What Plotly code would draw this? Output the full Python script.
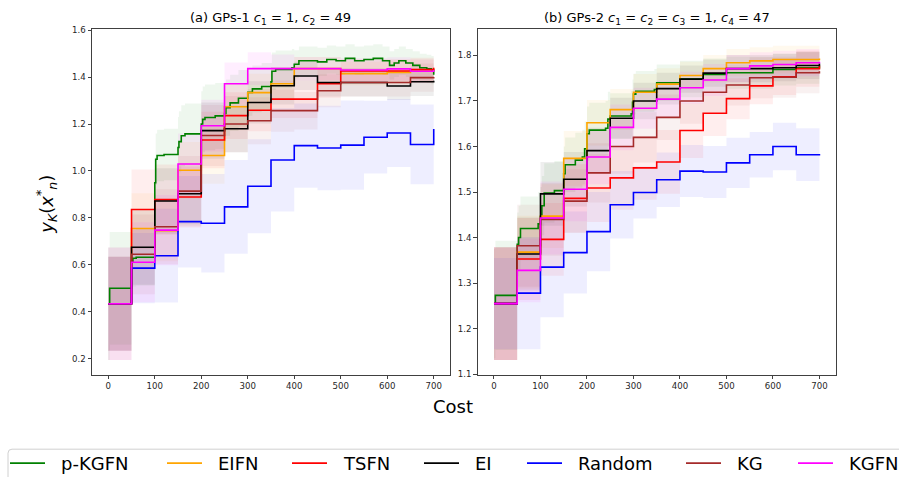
import plotly.graph_objects as go

# ---------------- data ----------------
COSTS = [0, 50, 100, 150, 200, 250, 300, 350, 400, 450, 500, 550, 600, 650, 700]
METHODS = ["p-KGFN", "EIFN", "TSFN", "EI", "Random", "KG", "KGFN"]
COLORS = ["#008000", "#ffa500", "#ff0000", "#000000", "#0000ff", "#a52a2a", "#ff00ff"]

# Panel (a) GPs-1
A_PKGFN_COST = [0, 3, 50, 53, 60, 100, 102, 105, 120, 150, 152, 157, 165, 200, 203, 208, 230,
                250, 253, 262, 280, 300, 310, 330, 350, 352, 360, 395, 400, 410, 430, 450, 470,
                490, 510, 530, 550, 570, 590, 605, 615, 625, 640, 655, 670, 685, 695, 700]
A_PKGFN = [0.434, 0.500, 0.615, 0.628, 0.632, 0.950, 1.050, 1.066, 1.070, 1.100, 1.125, 1.150,
           1.158, 1.200, 1.220, 1.228, 1.235, 1.245, 1.270, 1.290, 1.310, 1.335, 1.350, 1.360,
           1.380, 1.425, 1.433, 1.440, 1.455, 1.470, 1.470, 1.465, 1.475, 1.470, 1.480, 1.470,
           1.475, 1.480, 1.470, 1.450, 1.460, 1.470, 1.460, 1.450, 1.440, 1.435, 1.430, 1.410]
A_PKGFN_SD = [0.24, 0.24, 0.12, 0.12, 0.12, 0.11, 0.11, 0.11, 0.11, 0.13, 0.13, 0.13, 0.13,
              0.14, 0.14, 0.14, 0.14, 0.12, 0.12, 0.12, 0.12, 0.10, 0.10, 0.10, 0.08, 0.08,
              0.08, 0.08] + [0.06] * 20
A_EIFN = [0.434, 0.755, 0.745, 1.003, 1.066, 1.274, 1.334, 1.372, 1.436, 1.436, 1.415, 1.415, 1.420, 1.425, 1.425]
A_TSFN = [0.434, 0.836, 0.878, 0.889, 1.132, 1.236, 1.259, 1.306, 1.306, 1.372, 1.426, 1.426, 1.426, 1.432, 1.440]
A_EI = [0.434, 0.675, 0.872, 0.903, 1.172, 1.180, 1.292, 1.363, 1.405, 1.377, 1.377, 1.377, 1.362, 1.380, 1.385]
A_RANDOM = [0.434, 0.586, 0.639, 0.784, 0.777, 0.847, 0.935, 1.047, 1.108, 1.098, 1.110, 1.144, 1.162, 1.113, 1.179]
A_KG = [0.434, 0.645, 0.762, 0.914, 1.151, 1.200, 1.214, 1.257, 1.257, 1.342, 1.377, 1.377, 1.377, 1.398, 1.400]
A_KGFN = [0.434, 0.611, 0.748, 1.030, 1.193, 1.372, 1.436, 1.436, 1.436, 1.436, 1.430, 1.430, 1.435, 1.425, 1.430]

A_EIFN_SD = [0.20, 0.15, 0.13, 0.12, 0.12, 0.10, 0.08, 0.07, 0.05, 0.05, 0.05, 0.05, 0.05, 0.05, 0.05]
A_TSFN_SD = [0.20, 0.17, 0.15, 0.13, 0.12, 0.10, 0.09, 0.08, 0.08, 0.06, 0.05, 0.05, 0.05, 0.05, 0.05]
A_EI_SD = [0.20, 0.16, 0.14, 0.13, 0.12, 0.10, 0.09, 0.08, 0.06, 0.06, 0.06, 0.06, 0.06, 0.06, 0.06]
A_RANDOM_SD = [0.20, 0.15, 0.20, 0.195, 0.21, 0.20, 0.20, 0.22, 0.18, 0.18, 0.19, 0.155, 0.145, 0.17, 0.17]
A_KG_SD = [0.24, 0.17, 0.16, 0.15, 0.13, 0.12, 0.10, 0.09, 0.08, 0.07, 0.06, 0.06, 0.06, 0.06, 0.06]
A_KGFN_SD = [0.24, 0.17, 0.15, 0.13, 0.11, 0.09, 0.07, 0.06, 0.05, 0.05, 0.05, 0.05, 0.05, 0.05, 0.05]

# Panel (b) GPs-2
B_PKGFN_COST = [0, 3, 50, 53, 57, 95, 100, 103, 108, 130, 150, 153, 175, 190, 195, 200, 205,
                240, 245, 250, 295, 298, 300, 305, 345, 350, 400, 450, 500, 550, 600, 650, 700]
B_PKGFN = [1.255, 1.273, 1.385, 1.400, 1.420, 1.430, 1.446, 1.470, 1.498, 1.503, 1.540, 1.560,
           1.570, 1.577, 1.595, 1.628, 1.636, 1.640, 1.660, 1.667, 1.672, 1.697, 1.715, 1.721,
           1.725, 1.740, 1.748, 1.758, 1.762, 1.762, 1.769, 1.773, 1.776]
B_PKGFN_SD = [0.12, 0.12, 0.07, 0.07, 0.07, 0.07, 0.065, 0.065, 0.065, 0.065, 0.06, 0.06, 0.06,
              0.06, 0.06, 0.06, 0.06, 0.06, 0.06, 0.05, 0.05, 0.05, 0.045, 0.045, 0.045, 0.04,
              0.04, 0.035, 0.035, 0.035, 0.035, 0.035, 0.035]
B_EIFN = [1.255, 1.368, 1.447, 1.574, 1.652, 1.681, 1.719, 1.737, 1.756, 1.771, 1.784, 1.788, 1.791, 1.791, 1.793]
B_TSFN = [1.255, 1.353, 1.396, 1.486, 1.509, 1.531, 1.553, 1.566, 1.635, 1.673, 1.705, 1.733, 1.753, 1.771, 1.778]
B_EI = [1.255, 1.364, 1.496, 1.528, 1.591, 1.662, 1.700, 1.727, 1.748, 1.761, 1.771, 1.771, 1.773, 1.778, 1.782]
B_RANDOM = [1.255, 1.278, 1.335, 1.367, 1.413, 1.472, 1.499, 1.527, 1.546, 1.544, 1.564, 1.582, 1.600, 1.582, 1.580]
B_KG = [1.255, 1.382, 1.440, 1.480, 1.542, 1.600, 1.620, 1.664, 1.700, 1.719, 1.735, 1.751, 1.752, 1.762, 1.765]
B_KGFN = [1.255, 1.328, 1.443, 1.506, 1.577, 1.642, 1.684, 1.704, 1.729, 1.746, 1.771, 1.777, 1.780, 1.784, 1.786]

B_EIFN_SD = [0.124, 0.08, 0.07, 0.06, 0.05, 0.045, 0.04, 0.035, 0.03, 0.03, 0.03, 0.03, 0.03, 0.03, 0.03]
B_TSFN_SD = [0.124, 0.09, 0.08, 0.075, 0.075, 0.07, 0.07, 0.07, 0.06, 0.05, 0.045, 0.04, 0.04, 0.04, 0.04]
B_EI_SD = [0.124, 0.08, 0.07, 0.06, 0.05, 0.045, 0.04, 0.035, 0.03, 0.03, 0.03, 0.03, 0.03, 0.03, 0.03]
B_RANDOM_SD = [0.10, 0.123, 0.11, 0.09, 0.087, 0.074, 0.057, 0.06, 0.057, 0.057, 0.055, 0.05, 0.052, 0.058, 0.058]
B_KG_SD = [0.124, 0.09, 0.08, 0.07, 0.065, 0.06, 0.055, 0.05, 0.05, 0.045, 0.045, 0.045, 0.045, 0.045, 0.045]
B_KGFN_SD = [0.124, 0.07, 0.08, 0.07, 0.06, 0.05, 0.045, 0.04, 0.035, 0.035, 0.03, 0.03, 0.03, 0.03, 0.03]

A_TICKS_X = [0, 100, 200, 300, 400, 500, 600, 700]
A_TICKS_Y = [0.2, 0.4, 0.6, 0.8, 1.0, 1.2, 1.4, 1.6]
B_TICKS_Y = [1.1, 1.2, 1.3, 1.4, 1.5, 1.6, 1.7, 1.8]

PANEL_A = [(A_PKGFN_COST, A_PKGFN, A_PKGFN_SD), (COSTS, A_EIFN, A_EIFN_SD), (COSTS, A_TSFN, A_TSFN_SD),
           (COSTS, A_EI, A_EI_SD), (COSTS, A_RANDOM, A_RANDOM_SD), (COSTS, A_KG, A_KG_SD),
           (COSTS, A_KGFN, A_KGFN_SD)]
PANEL_B = [(B_PKGFN_COST, B_PKGFN, B_PKGFN_SD), (COSTS, B_EIFN, B_EIFN_SD), (COSTS, B_TSFN, B_TSFN_SD),
           (COSTS, B_EI, B_EI_SD), (COSTS, B_RANDOM, B_RANDOM_SD), (COSTS, B_KG, B_KG_SD),
           (COSTS, B_KGFN, B_KGFN_SD)]


def rgba(hexcol, a):
    h = hexcol.lstrip("#")
    r, g, b = int(h[0:2], 16), int(h[2:4], 16), int(h[4:6], 16)
    return f"rgba({r},{g},{b},{a})"


fig = go.Figure()
W, H = 899, 477      # reference frame used for fractional positions
FIG_H = 482
FONT = "DejaVu Sans"

for panel, xa, ya in [(PANEL_A, "x", "y"), (PANEL_B, "x2", "y2")]:
    # bands first
    for (xs, m, sd), col, name in zip(panel, COLORS, METHODS):
        lo = [a - b for a, b in zip(m, sd)]
        hi = [a + b for a, b in zip(m, sd)]
        fig.add_trace(go.Scatter(x=xs, y=lo, mode="lines", line=dict(width=0, shape="hv"),
                                 showlegend=False, hoverinfo="skip", xaxis=xa, yaxis=ya))
        fig.add_trace(go.Scatter(x=xs, y=hi, mode="lines", line=dict(width=0, shape="hv"),
                                 fill="tonexty", fillcolor=rgba(col, 0.065),
                                 showlegend=False, hoverinfo="skip", xaxis=xa, yaxis=ya))
    for (xs, m, sd), col, name in zip(panel, COLORS, METHODS):
        fig.add_trace(go.Scatter(x=xs, y=m, mode="lines", name=name,
                                 line=dict(color=col, width=1.6, shape="hv"),
                                 showlegend=False, xaxis=xa, yaxis=ya))

axis_common = dict(showline=True, mirror=True, linecolor="#404040", linewidth=1,
                   ticks="outside", ticklen=3.5, tickwidth=1, tickcolor="#404040",
                   showgrid=False, zeroline=False,
                   tickfont=dict(family=FONT, size=8.6, color="#262626"))

fig.update_layout(
    width=W, height=FIG_H, autosize=False,
    margin=dict(l=0, r=0, t=0, b=0),
    paper_bgcolor="white", plot_bgcolor="white",
    showlegend=False,
    xaxis=dict(domain=[92 / W, 450 / W], range=[-35, 735], tickvals=A_TICKS_X, anchor="y", **axis_common),
    yaxis=dict(domain=[1 - 374 / H, 1 - 25.7 / H], range=[0.132, 1.607], tickvals=A_TICKS_Y,
               tickformat=".1f", anchor="x", **axis_common),
    xaxis2=dict(domain=[477.7 / W, 835.7 / W], range=[-35, 735], tickvals=A_TICKS_X, anchor="y2", **axis_common),
    yaxis2=dict(domain=[1 - 374 / H, 1 - 25.7 / H], range=[1.099, 1.859], tickvals=B_TICKS_Y,
                tickformat=".1f", anchor="x2", **axis_common),
)

ann = []
ann.append(dict(x=270 / W, y=1 - 15.5 / H, xref="paper", yref="paper", showarrow=False,
                text="(a) GPs-1 <i>c</i><sub>1</sub> = 1, <i>c</i><sub>2</sub> = 49",
                font=dict(family=FONT, size=13, color="black"), xanchor="center", yanchor="middle"))
ann.append(dict(x=656.7 / W, y=1 - 15.5 / H, xref="paper", yref="paper", showarrow=False,
                text="(b) GPs-2 <i>c</i><sub>1</sub> = <i>c</i><sub>2</sub> = <i>c</i><sub>3</sub> = 1, <i>c</i><sub>4</sub> = 47",
                font=dict(family=FONT, size=13, color="black"), xanchor="center", yanchor="middle"))
ann.append(dict(x=46 / W, y=1 - 203 / H, xref="paper", yref="paper", showarrow=False, textangle=-90,
                text="<i>y</i><sub><i>K</i></sub>(<i>x</i><sup>*</sup><sub><i>n</i></sub>)",
                font=dict(family=FONT, size=18, color="black"), xanchor="center", yanchor="middle"))
ann.append(dict(x=453 / W, y=1 - 406 / H, xref="paper", yref="paper", showarrow=False,
                text="Cost", font=dict(family=FONT, size=18, color="black"),
                xanchor="center", yanchor="middle"))

# manual legend (positions in px)
LEG_LINE_X = [10, 167, 292, 424, 527, 686, 798]
LEG_Y = 463
shapes = []
for lx, col, name in zip(LEG_LINE_X, COLORS, METHODS):
    shapes.append(dict(type="line", xref="paper", yref="paper", x0=lx / W, x1=(lx + 35) / W,
                       y0=1 - LEG_Y / H, y1=1 - LEG_Y / H, line=dict(color=col, width=1.8)))
    ann.append(dict(x=(lx + 49) / W, y=1 - LEG_Y / H, xref="paper", yref="paper", showarrow=False,
                    text=name, font=dict(family=FONT, size=18, color="black"),
                    xanchor="left", yanchor="middle"))
# legend frame with rounded top-left corner
x0, y0, r = 8 / W, 1 - 449 / H, 4
path = (f"M {x0},{1 - 490 / H} L {x0},{1 - (449 + r) / H} "
        f"Q {x0},{y0} {(8 + r) / W},{y0} L {910 / W},{y0}")
shapes.append(dict(type="path", xref="paper", yref="paper", path=path,
                   line=dict(color="#d0d0d0", width=1)))

fig.update_layout(annotations=ann, shapes=shapes)
fig.write_html("out.html",
               config={"displayModeBar": False, "responsive": False, "staticPlot": True},
               post_script="document.body.style.margin='0px';document.body.style.overflow='hidden';")
